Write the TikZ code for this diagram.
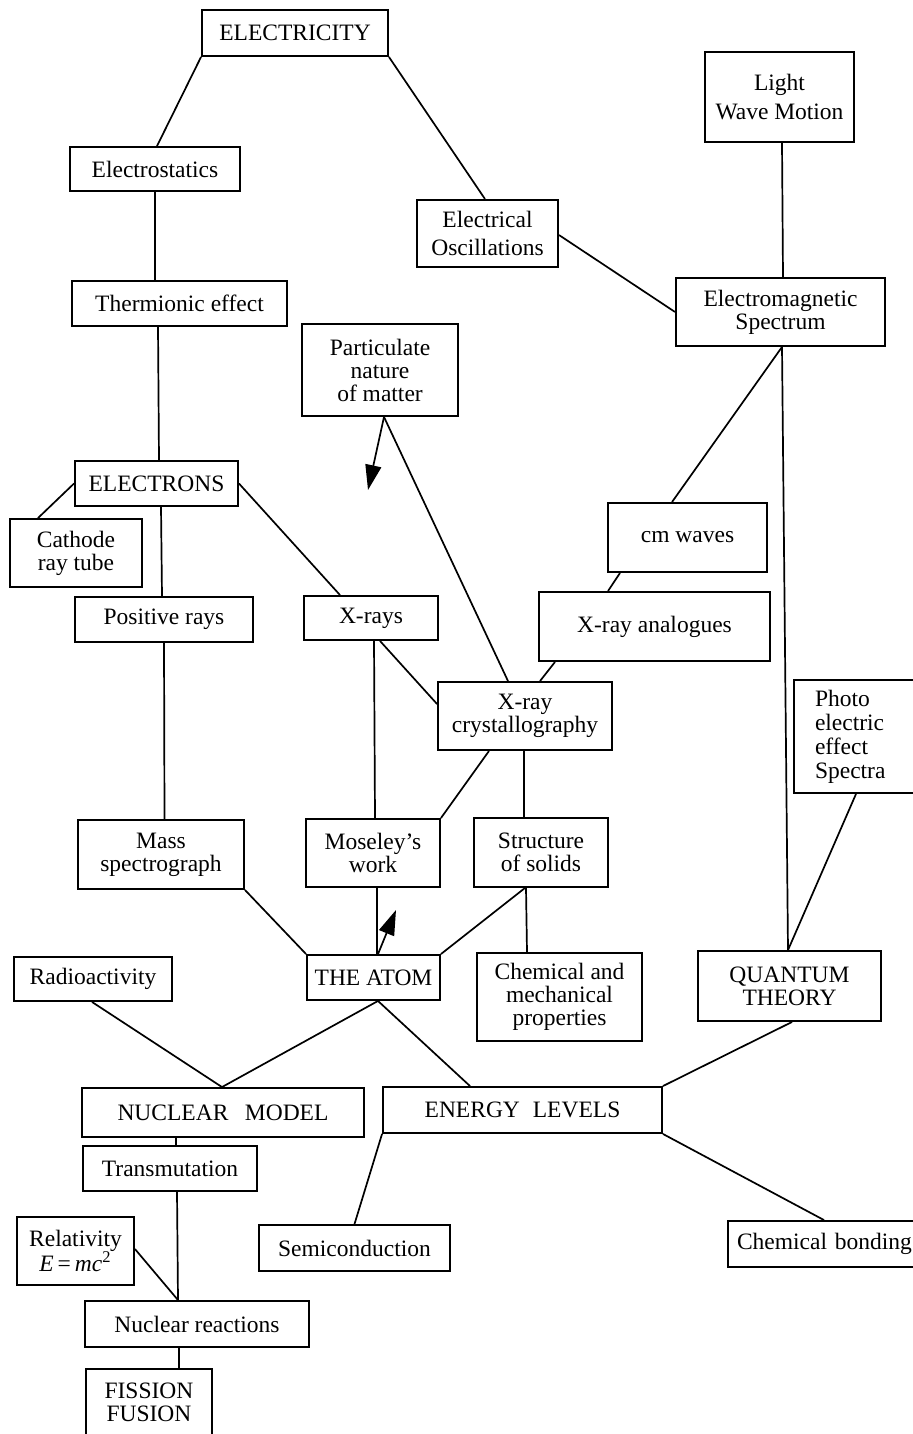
\documentclass[tikz,border=0pt]{standalone}
\usepackage{fontspec}
\setmainfont{Liberation Serif}
\usetikzlibrary{arrows.meta}
\begin{document}
\begin{tikzpicture}[x=0.5pt,y=-0.5pt,
  box/.style={draw, line width=0.95pt, inner sep=0pt, align=center, font=\fontsize{11.75}{11.5}\selectfont},
  sz/.style 2 args={minimum width=#1*0.5pt, minimum height=#2*0.5pt},
  ln/.style={line width=0.85pt},
  arr/.style={line width=0.85pt, -{Triangle[length=12.5pt,width=8pt]}}]
\useasboundingbox (0,0) rectangle (913,1434);
\fill[white] (0,0) rectangle (913,1434);
\clip (0,0) rectangle (913,1434);

% nodes
\node[box, sz={186}{46}] (elec) at (295,33) {ELECTRICITY};
\node[box, sz={170}{44}] (estat) at (155,169) {Electrostatics};
\node[box, sz={215}{45}] (therm) at (179.5,303.5) {Thermionic effect};
\node[box, sz={156}{92}] (part) at (380,370) {Particulate\\nature\\of matter};
\node[box, sz={141}{67}, font=\fontsize{11.75}{14}\selectfont] (osc) at (487.5,233.5) {Electrical\\Oscillations};
\node[box, sz={149}{90}, font=\fontsize{11.75}{14.5}\selectfont] (light) at (779.5,97) {Light\\Wave Motion};
\node[box, sz={209}{68}] (ems) at (780.5,312) {Electromagnetic\\Spectrum};
\node[box, sz={163}{45}] (electrons) at (156.5,483.5) {ELECTRONS};
\node[box, sz={132}{68}] (crt) at (76,553) {Cathode\\ray tube};
\node[box, sz={178}{45}] (pos) at (164,619.5) {Positive rays};
\node[box, sz={134}{44}] (xrays) at (371,618) {X-rays};
\node[box, sz={159}{69}] (cm) at (687.5,537.5) {cm waves};
\node[box, sz={231}{69}] (xan) at (654.5,626.5) {X-ray analogues};
\node[box, sz={174}{68}] (xcr) at (525,716) {X-ray\\crystallography};
\node[box, sz={136}{113}, text width=47pt, align=left, font=\fontsize{11.75}{12}\selectfont] (photo) at (862,736.5) {Photo\\electric\\effect\\Spectra};
\node[box, sz={166}{69}] (mass) at (161,854.5) {Mass\\spectrograph};
\node[box, sz={134}{68}] (mos) at (373,853) {Moseley's\\work};
\node[box, sz={134}{69}] (sos) at (541,852.5) {Structure\\of solids};
\node[box, sz={158}{44}] (radio) at (93,979) {Radioactivity};
\node[box, sz={133}{45}] (atom) at (373.5,977.5) {THE ATOM};
\node[box, sz={165}{88}] (chem) at (559.5,997) {Chemical and\\mechanical\\properties};
\node[box, sz={183}{70}] (qt) at (789.5,986) {QUANTUM\\THEORY};
\node[box, sz={282}{49}] (nuc) at (223,1112.5) {NUCLEAR\hspace{0.7em}MODEL};
\node[box, sz={279}{46}] (energy) at (522.5,1110) {ENERGY\hspace{0.55em}LEVELS};
\node[box, sz={174}{45}] (trans) at (170,1168.5) {Transmutation};
\node[box, sz={117}{68}, font=\fontsize{11.75}{12.5}\selectfont] (rel) at (75.5,1251) {Relativity\\\textit{E}\,=\,\textit{mc}\textsuperscript{2}};
\node[box, sz={191}{46}] (semi) at (354.5,1248) {Semiconduction};
\node[box, sz={202}{46}, text width=92pt, align=left] (cbond) at (829,1244) {Chemical bonding};
\node[box, sz={224}{46}] (nr) at (197,1324) {Nuclear reactions};
\node[box, sz={126}{66}] (fis) at (149,1402) {FISSION\\FUSION};

\coordinate (tipA) at (368,490);
\coordinate (tipB) at (396,910);

% connectors
\draw[ln] (elec.south west) -- ([xshift=1pt]estat.north);
\draw[ln] (elec.south east) -- ([xshift=-1.25pt]osc.north);
\draw[ln] (estat.south) -- ([xshift=-12.25pt]therm.north);
\draw[ln] ([xshift=-10.75pt]therm.south) -- ([xshift=1.25pt]electrons.north);
\draw[ln] ([xshift=1.25pt]light.south) -- ([xshift=1.25pt]ems.north);
\draw[ln] ([yshift=-0.75pt]osc.east) -- (ems.west);
\draw[ln] ([xshift=0.75pt]ems.south) -- ([xshift=-7.75pt]cm.north);
\draw[ln] ([xshift=0.75pt]ems.south) -- ([xshift=-0.75pt]qt.north);
\draw[ln] ([xshift=-33.75pt]cm.south) -- ([xshift=-23.25pt]xan.north);
\draw[ln] ([xshift=-49.75pt]xan.south) -- ([xshift=7.5pt]xcr.north);
\draw[ln] ([xshift=2pt]part.south) -- ([xshift=-8.5pt]xcr.north);
\draw[arr] ([xshift=2pt]part.south) -- (tipA);
\draw[ln] (electrons.west) -- ([xshift=-19pt]crt.north);
\draw[ln] ([xshift=2.25pt]electrons.south) -- ([xshift=-1pt]pos.north);
\draw[ln] (electrons.east) -- ([xshift=-15.5pt]xrays.north);
\draw[ln] ([xshift=1.5pt]xrays.south) -- ([xshift=1pt]mos.north);
\draw[ln] ([xshift=4.5pt]xrays.south) -- ([yshift=6pt]xcr.west);
\draw[ln] (pos.south) -- ([xshift=1.75pt]mass.north);
\draw[ln] ([xshift=-0.5pt]xcr.south) -- ([xshift=-8.5pt]sos.north);
\draw[ln] ([xshift=-18pt]xcr.south) -- (mos.north east);
\draw[ln] (mass.south east) -- (atom.north west);
\draw[ln] ([xshift=2pt]mos.south) -- ([xshift=1.75pt]atom.north);
\draw[arr] ([xshift=2.25pt]atom.north) -- (tipB);
\draw[ln] ([xshift=-8pt]sos.south) -- (atom.north east);
\draw[ln] ([xshift=-7.5pt]sos.south) -- ([xshift=-16.25pt]chem.north);
\draw[ln] ([xshift=-3pt]photo.south) -- ([xshift=-0.75pt]qt.north);
\draw[ln] ([xshift=-0.5pt]radio.south) -- ([xshift=-0.5pt]nuc.north);
\draw[ln] ([xshift=2.25pt]atom.south) -- ([xshift=-0.5pt]nuc.north);
\draw[ln] ([xshift=2.25pt]atom.south) -- ([xshift=-26.25pt]energy.north);
\draw[ln] ([xshift=1.25pt]qt.south) -- (energy.north east);
\draw[ln] (energy.south west) -- (semi.north);
\draw[ln] (energy.south east) -- ([xshift=-2.5pt]cbond.north);
\draw[ln] ([xshift=-23.5pt]nuc.south) -- ([xshift=3pt]trans.north);
\draw[ln] ([xshift=3.5pt]trans.south) -- ([xshift=-9.5pt]nr.north);
\draw[ln] ([yshift=1pt]rel.east) -- ([xshift=-9.5pt]nr.north);
\draw[ln] ([xshift=-9pt]nr.south) -- ([xshift=15pt]fis.north);
\end{tikzpicture}
\end{document}
